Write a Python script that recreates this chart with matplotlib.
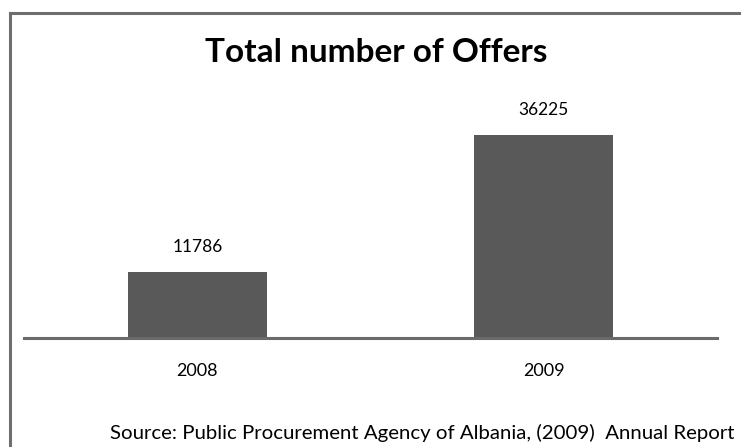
import matplotlib
matplotlib.use("Agg")
import matplotlib.pyplot as plt
from matplotlib.lines import Line2D

categories = ["2008", "2009"]
values = [11786, 36225]
title = "Total number of Offers"
source = "Source: Public Procurement Agency of Albania, (2009)  Annual Report"

plt.rcParams['font.family'] = ['Lato', 'DejaVu Sans']

W, H = 741, 447
fig = plt.figure(figsize=(W/100, H/100), dpi=100)
fig.patch.set_facecolor('white')

# outer border: only top and left edges are visible in the frame
bx, by = 9.5/W, 1 - 12.5/H
fig.add_artist(Line2D([bx, 1.0], [by, by], transform=fig.transFigure, color='#6e6e6e', linewidth=2.2))
fig.add_artist(Line2D([bx, bx], [0.0, by], transform=fig.transFigure, color='#6e6e6e', linewidth=2.2))

ax_left, ax_right = 24/W, 717/W
ax_bottom = (H - 337.5)/H
ax_top = (H - 100)/H
ax = fig.add_axes([ax_left, ax_bottom, ax_right - ax_left, ax_top - ax_bottom])
x = range(len(categories))
ax.bar(x, values, width=0.4, color='#595959')
ax.set_xlim(-0.5, 1.5)
ax.set_ylim(0, 42500)
for s in ['top', 'right', 'left']:
    ax.spines[s].set_visible(False)
ax.spines['bottom'].set_color('#6a6a6a')
ax.spines['bottom'].set_linewidth(2.2)
ax.set_yticks([])
ax.set_xticks(list(x))
ax.set_xticklabels(categories, fontsize=13)
ax.tick_params(axis='x', length=0, pad=18)
for xi, v in zip(x, values):
    ax.annotate(str(v), (xi, v), xytext=(0, 12), textcoords='offset points',
                ha='center', va='bottom', fontsize=12.5)

fig.text(376/W, 1 - 53/H, title, ha='center', va='center', fontsize=24, fontweight='bold')
fig.text(422/W, 1 - 433/H, source, ha='center', va='center', fontsize=14.7)

fig.savefig("out.png", dpi=100)
